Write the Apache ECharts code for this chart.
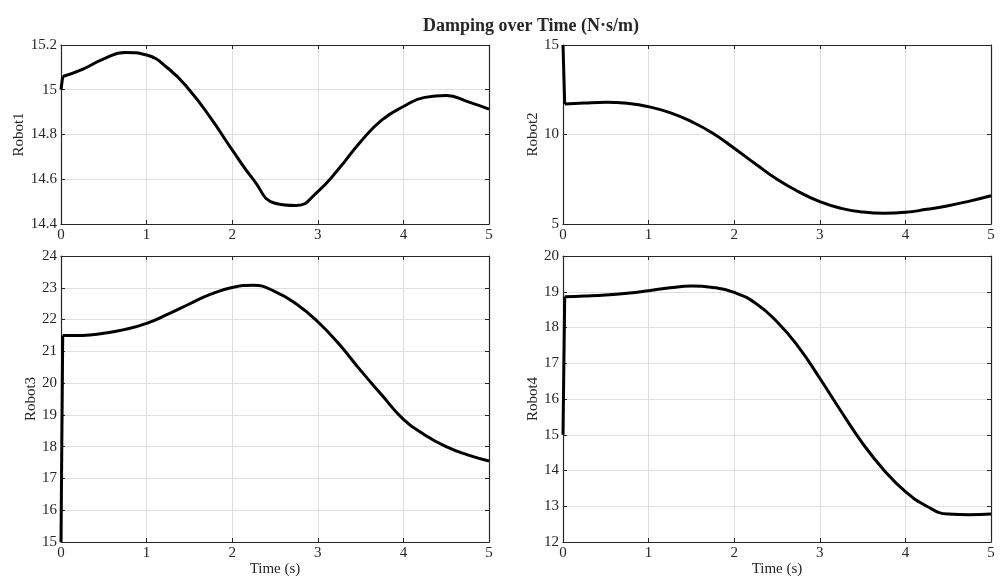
<!DOCTYPE html>
<html>
<head>
    <meta charset="utf-8">
    <title>Damping over Time</title>
    <script src="https://cdn.jsdelivr.net/npm/echarts@6/dist/echarts.min.js"></script>
    <style>
        html, body { margin: 0; padding: 0; background: #ffffff; }
        #chart { width: 1001px; height: 579px; }
    </style>
</head>
<body>
<div id="chart"></div>
<script>
    // time samples (s), shared by all robots
    var times = [0, 0.02, 0.25, 0.5, 0.75, 1.0, 1.25, 1.5, 1.75, 2.0, 2.25, 2.5, 2.75,
        3.0, 3.25, 3.5, 3.75, 4.0, 4.25, 4.5, 4.75, 5.0];

    // damping values (N·s/m)
    var robot1 = [15.0, 15.059, 15.091, 15.138, 15.167, 15.155, 15.096, 14.999, 14.873, 14.731,
        14.597, 14.493, 14.483, 14.545, 14.649, 14.768, 14.865, 14.925, 14.966, 14.974, 14.947, 14.913];
    var robot2 = [15.0, 11.7, 11.76, 11.8, 11.74, 11.555, 11.22, 10.72, 10.07, 9.23,
        8.35, 7.5, 6.81, 6.25, 5.875, 5.67, 5.6, 5.65, 5.82, 6.02, 6.28, 6.58];
    var robot3 = [15.0, 21.5, 21.5, 21.57, 21.69, 21.88, 22.17, 22.49, 22.8, 23.01,
        23.08, 22.88, 22.49, 21.93, 21.22, 20.4, 19.62, 18.86, 18.37, 18.0, 17.74, 17.55];
    var robot4 = [15.0, 18.86, 18.88, 18.91, 18.96, 19.03, 19.11, 19.16, 19.12, 18.98,
        18.68, 18.16, 17.46, 16.58, 15.65, 14.76, 14.01, 13.41, 13.0, 12.78, 12.76, 12.78];

    var robotNames = ['Robot1', 'Robot2', 'Robot3', 'Robot4'];
    var yMin = [14.4, 5, 15, 12];
    var yMax = [15.2, 15, 24, 20];
    var yStep = [0.2, 5, 1, 1];
    var nameGaps = [31, 22, 20, 22];

    var font = 'Liberation Serif';
    var ink = '#262626';

    var grids = [
        { left: 61, top: 45, width: 428, height: 179 },
        { left: 563, top: 45, width: 428, height: 179 },
        { left: 61, top: 256, width: 428, height: 286 },
        { left: 563, top: 256, width: 428, height: 286 }
    ];

    var xAxes = [], yAxes = [], series = [];
    var allData = [robot1, robot2, robot3, robot4];

    var boxLine = { show: true, onZero: false, lineStyle: { color: ink, width: 1.2 } };
    var tick = { show: true, inside: true, length: 4, lineStyle: { color: ink } };
    var split = { show: true, lineStyle: { color: '#dfdfdf', width: 1 } };

    for (let i = 0; i < 4; i++) {
        xAxes.push({
            type: 'value', gridIndex: i, min: 0, max: 5, interval: 1,
            name: i >= 2 ? 'Time (s)' : '', nameLocation: 'middle', nameGap: 20,
            nameTextStyle: { fontFamily: font, fontSize: 15, color: ink },
            axisLine: boxLine, axisTick: tick,
            axisLabel: { fontFamily: font, fontSize: 15, color: ink, margin: 4 },
            splitLine: split
        });
        // top edge of the box
        xAxes.push({
            type: 'value', gridIndex: i, position: 'top', min: 0, max: 5, interval: 1,
            axisLine: boxLine, axisTick: tick,
            axisLabel: { show: false }, splitLine: { show: false }
        });
        yAxes.push({
            type: 'value', gridIndex: i, min: yMin[i], max: yMax[i], interval: yStep[i],
            name: robotNames[i], nameLocation: 'middle', nameGap: nameGaps[i],
            nameTextStyle: { fontFamily: font, fontSize: 15, color: ink },
            axisLine: boxLine, axisTick: tick,
            axisLabel: { fontFamily: font, fontSize: 15, color: ink, margin: 4 },
            splitLine: split
        });
        // right edge of the box
        yAxes.push({
            type: 'value', gridIndex: i, position: 'right', min: yMin[i], max: yMax[i], interval: yStep[i],
            axisLine: boxLine, axisTick: tick,
            axisLabel: { show: false }, splitLine: { show: false }
        });

        var vals = allData[i];
        // initial jump, straight
        series.push({
            type: 'line', xAxisIndex: 2 * i, yAxisIndex: 2 * i,
            data: [[times[0], vals[0]], [times[1], vals[1]]],
            showSymbol: false, smooth: false,
            lineStyle: { color: '#000000', width: 3 }
        });
        // the rest, smooth
        var pts = [];
        for (let k = 1; k < times.length; k++) {
            pts.push([times[k], vals[k]]);
        }
        series.push({
            type: 'line', xAxisIndex: 2 * i, yAxisIndex: 2 * i,
            data: pts, showSymbol: false, smooth: 0.5,
            lineStyle: { color: '#000000', width: 3 }
        });
    }

    var chart = echarts.init(document.getElementById('chart'));
    var option = {
        animation: false,
        backgroundColor: '#ffffff',
        title: {
            text: 'Damping over Time (N·s/m)',
            left: 526, top: 12, textAlign: 'center',
            textStyle: { fontFamily: font, fontSize: 18, fontWeight: 'bold', color: ink }
        },
        grid: grids,
        xAxis: xAxes,
        yAxis: yAxes,
        series: series
    };
    chart.setOption(option);
</script>
</body>
</html>
